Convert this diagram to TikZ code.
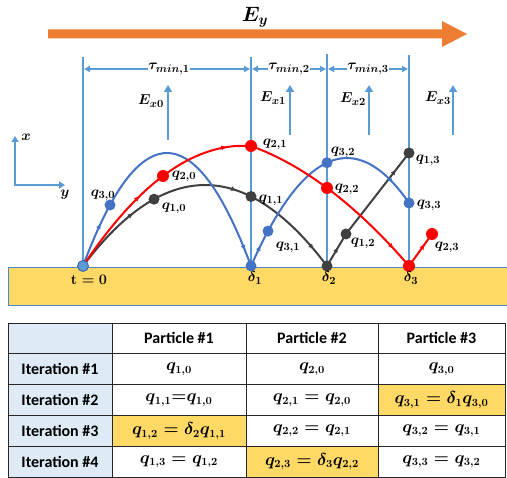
\documentclass[tikz,border=0pt]{standalone}
\usepackage{fontspec}
\newfontfamily\tabfont{Carlito}
\usetikzlibrary{arrows.meta,decorations.markings}
\definecolor{lblue}{HTML}{5B9BD5}
\definecolor{pblue}{HTML}{4472C4}
\definecolor{pgray}{HTML}{404040}
\definecolor{pred}{HTML}{FF0000}
\definecolor{eorange}{HTML}{ED7D31}
\definecolor{gold}{HTML}{FFD966}
\definecolor{hdr}{HTML}{DEEBF7}
\definecolor{gborder}{HTML}{4F88C6}
\begin{document}
\begin{tikzpicture}[x=1pt,y=-1pt,
  lbl/.style={font=\fontsize{15}{17}\selectfont\boldmath, inner sep=0pt, text=black},
  ptdot/.style={circle, inner sep=0pt, minimum size=11pt},
  trajline/.style={line width=2pt},
  arr/.style={postaction={decorate},decoration={markings,mark=at position #1 with {\arrow{Latex[length=6pt,width=5pt]}}}},
  vline/.style={lblue, line width=2.2pt},
  efield/.style={lblue, line width=2.2pt, -{Triangle[length=7pt,width=8pt]}},
  tauarrow/.style={lblue, line width=1.5pt, {Triangle[length=6pt,width=6pt]}-{Triangle[length=6pt,width=6pt]}},
  tcell/.style={draw=black!85, line width=0.9pt, minimum height=30.8pt, inner sep=0pt},
  hdtext/.style={font=\tabfont\bfseries\fontsize{16}{19}\selectfont},
  mtext/.style={font=\fontsize{16}{19}\selectfont\boldmath}
]
\useasboundingbox (0,0) rectangle (507,478);

% E_y arrow
\fill[eorange] (48,29.5) -- (442,29.5) -- (442,21) -- (467,34) -- (442,47) -- (442,38.5) -- (48,38.5) -- cycle;
\node[font=\fontsize{20}{22}\selectfont\boldmath] (ey) at (255,17) {$E_y$};

% ground
\filldraw[fill=gold, draw=gborder, line width=0.8pt] (8,267) rectangle (510,305);

% vertical lines
\coordinate (v1t) at (83,57);  \coordinate (v1b) at (83,266);
\coordinate (v2t) at (251,57); \coordinate (v2b) at (251,266);
\coordinate (v3t) at (327,54); \coordinate (v3b) at (327,266);
\coordinate (v4t) at (409,55); \coordinate (v4b) at (409,266);
\draw[vline] (v1t) -- (v1b);
\draw[vline] (v2t) -- (v2b);
\draw[vline] (v3t) -- (v3b);
\draw[vline] (v4t) -- (v4b);

% tau arrows
\coordinate (t1a) at (84,69); \coordinate (t1b) at (250,69);
\coordinate (t2a) at (252,69); \coordinate (t2b) at (326,69);
\coordinate (t3a) at (328,69); \coordinate (t3b) at (408,69);
\draw[tauarrow] (t1a) -- (t1b) node[midway, fill=white, inner sep=1pt, lbl, xshift=2pt] (tl1) {$\tau_{min,1}$};
\draw[tauarrow] (t2a) -- (t2b) node[midway, fill=white, inner sep=1pt, lbl] (tl2) {$\tau_{min,2}$};
\draw[tauarrow] (t3a) -- (t3b) node[midway, fill=white, inner sep=1pt, lbl] (tl3) {$\tau_{min,3}$};

% E_x arrows
\coordinate (e0b) at (168,140); \coordinate (e0t) at (168,85);
\coordinate (e1b) at (290,135); \coordinate (e1t) at (290,85);
\coordinate (e2b) at (369,135); \coordinate (e2t) at (369,85);
\coordinate (e3b) at (453,135); \coordinate (e3t) at (453,85);
\draw[efield] (e0b) -- (e0t);
\draw[efield] (e1b) -- (e1t);
\draw[efield] (e2b) -- (e2t);
\draw[efield] (e3b) -- (e3t);
\node[lbl] (ex0) at (151,101) {$E_{x0}$};
\node[lbl] (ex1) at (273,98) {$E_{x1}$};
\node[lbl] (ex2) at (353,99) {$E_{x2}$};
\node[lbl] (ex3) at (438,98) {$E_{x3}$};

% axes
\coordinate (axo) at (15,185); \coordinate (axx) at (15,136); \coordinate (axy) at (65,185);
\draw[lblue, line width=2pt, {Triangle[length=6pt,width=7pt]}-{Triangle[length=6pt,width=7pt]}] (axx) -- (axo) -- (axy);
\node[lbl] (lx) at (26,137) {$x$};
\node[lbl] (ly) at (65,195) {$y$};

% trajectory points
\coordinate (o) at (83,266);
\coordinate (q30) at (110,205);
\coordinate (d1) at (251,266);
\coordinate (q31) at (268,231.1);
\coordinate (q32) at (327,162.7);
\coordinate (q33) at (409,203);
\coordinate (q20) at (163,176);
\coordinate (q21) at (251,146);
\coordinate (q22) at (327,188);
\coordinate (d3) at (409,266);
\coordinate (q23) at (432,234);
\coordinate (q10) at (154,199.2);
\coordinate (q11) at (251,196.5);
\coordinate (d2) at (327,266);
\coordinate (q12) at (346,234);
\coordinate (q13) at (409,153);

% gray (particle 1)
\draw[trajline,pgray,arr=0.75] (o) .. controls (106.7,234.6) and (130.3,212.3) .. (q10);
\draw[trajline,pgray,arr=0.85] (q10) .. controls (186.3,181.3) and (218.7,180.3) .. (q11);
\draw[trajline,pgray,arr=0.8] (q11) .. controls (276.3,209.2) and (301.7,232.4) .. (d2);
\draw[trajline,pgray,arr=0.6] (d2) -- (q12);
\draw[trajline,pgray,arr=0.8] (q12) -- (q13);
% blue (particle 3)
\draw[trajline,pblue,arr=0.7] (o) .. controls (92,241.8) and (101,221.5) .. (q30);
\draw[trajline,pblue,arr=0.93] (q30) .. controls (157,119.2) and (204,139.6) .. (d1);
\draw[trajline,pblue,arr=0.6] (d1) .. controls (256.7,253.3) and (262.3,241.6) .. (q31);
\draw[trajline,pblue] (q31) .. controls (287.7,194.7) and (307.3,171.9) .. (q32);
\draw[trajline,pblue,arr=0.75] (q32) .. controls (354.3,149.9) and (381.7,163.4) .. (q33);
% red (particle 2)
\draw[trajline,pred,arr=0.75] (o) .. controls (109.7,226.05) and (136.3,196.04) .. (q20);
\draw[trajline,pred,arr=0.75] (q20) .. controls (192.3,153.96) and (221.7,143.95) .. (q21);
\draw[trajline,pred] (q21) .. controls (276.3,155.1) and (301.7,169.1) .. (q22);
\draw[trajline,pred,arr=0.8] (q22) .. controls (354.3,208.3) and (381.7,234.3) .. (d3);
\draw[trajline,pred,arr=0.7] (d3) -- (q23);

% dots
\node[ptdot, fill=lblue, draw=pblue!80!black, line width=0.8pt] (no) at (o) {};
\node[ptdot, fill=pblue] (n30) at (q30) {};
\node[ptdot, fill=pblue] (nd1) at (d1) {};
\node[ptdot, fill=pblue] (n31) at (q31) {};
\node[ptdot, fill=pblue] (n32) at (q32) {};
\node[ptdot, fill=pblue] (n33) at (q33) {};
\node[ptdot, fill=pred, minimum size=12pt] (n20) at (q20) {};
\node[ptdot, fill=pred, minimum size=12pt] (n21) at (q21) {};
\node[ptdot, fill=pred, minimum size=12pt] (n22) at (q22) {};
\node[ptdot, fill=pred, minimum size=12pt] (nd3) at (d3) {};
\node[ptdot, fill=pred, minimum size=12pt] (n23) at (q23) {};
\node[ptdot, fill=pgray] (n10) at (q10) {};
\node[ptdot, fill=pgray] (n11) at (q11) {};
\node[ptdot, fill=pgray] (nd2) at (d2) {};
\node[ptdot, fill=pgray] (n12) at (q12) {};
\node[ptdot, fill=pgray] (n13) at (q13) {};

% labels
\node[lbl] (l30) at (103,195) {$q_{3,0}$};
\node[lbl] (l20) at (184,176) {$q_{2,0}$};
\node[lbl] (l10) at (174,208) {$q_{1,0}$};
\node[lbl] (l21) at (275,144) {$q_{2,1}$};
\node[lbl] (l11) at (271,200) {$q_{1,1}$};
\node[lbl] (l32) at (343,152) {$q_{3,2}$};
\node[lbl] (l22) at (347,189) {$q_{2,2}$};
\node[lbl] (l13) at (428,160) {$q_{1,3}$};
\node[lbl] (l33) at (429,205) {$q_{3,3}$};
\node[lbl] (l31) at (288,247) {$q_{3,1}$};
\node[lbl] (l12) at (363,243) {$q_{1,2}$};
\node[lbl] (l23) at (447,247) {$q_{2,3}$};
\node[lbl] (ld1) at (255,278) {$\delta_1$};
\node[lbl] (ld2) at (329,278) {$\delta_2$};
\node[lbl] (ld3) at (411,278) {$\delta_3$};
\node[lbl] (lt0) at (89,280) {$\mathbf{t=0}$};

% table
\foreach \r/\y in {0/338.4,1/369.2,2/400,3/430.8,4/461.6}{
  \node[tcell, fill=hdr, minimum width=104pt] (c\r0) at (60,\y) {};
  \node[tcell, minimum width=134pt] (c\r1) at (179,\y) {};
  \node[tcell, minimum width=132pt] (c\r2) at (312,\y) {};
  \node[tcell, minimum width=127pt] (c\r3) at (441.5,\y) {};
}
\node[tcell, fill=gold, minimum width=134pt] (y31) at (c31) {};
\node[tcell, fill=gold, minimum width=132pt] (y42) at (c42) {};
\node[tcell, fill=gold, minimum width=127pt] (y23) at (c23) {};

\node[hdtext] (h1) at (c01) {Particle \#1};
\node[hdtext] (h2) at (c02) {Particle \#2};
\node[hdtext] (h3) at (c03) {Particle \#3};
\node[hdtext] (i1) at (c10) {Iteration \#1};
\node[hdtext] (i2) at (c20) {Iteration \#2};
\node[hdtext] (i3) at (c30) {Iteration \#3};
\node[hdtext] (i4) at (c40) {Iteration \#4};

\node[mtext] (m11) at (c11) {$q_{1,0}$};
\node[mtext] (m12) at (c12) {$q_{2,0}$};
\node[mtext] (m13) at (c13) {$q_{3,0}$};
\node[mtext] (m21) at (c21) {$q_{1,1}{=}q_{1,0}$};
\node[mtext] (m22) at (c22) {$q_{2,1}=q_{2,0}$};
\node[mtext] (m23) at (c23) {$q_{3,1}=\delta_1 q_{3,0}$};
\node[mtext] (m31) at (c31) {$q_{1,2}=\delta_2 q_{1,1}$};
\node[mtext] (m32) at (c32) {$q_{2,2}=q_{2,1}$};
\node[mtext] (m33) at (c33) {$q_{3,2}=q_{3,1}$};
\node[mtext] (m41) at (c41) {$q_{1,3}=q_{1,2}$};
\node[mtext] (m42) at (c42) {$q_{2,3}=\delta_3 q_{2,2}$};
\node[mtext] (m43) at (c43) {$q_{3,3}=q_{3,2}$};
\end{tikzpicture}
\end{document}
